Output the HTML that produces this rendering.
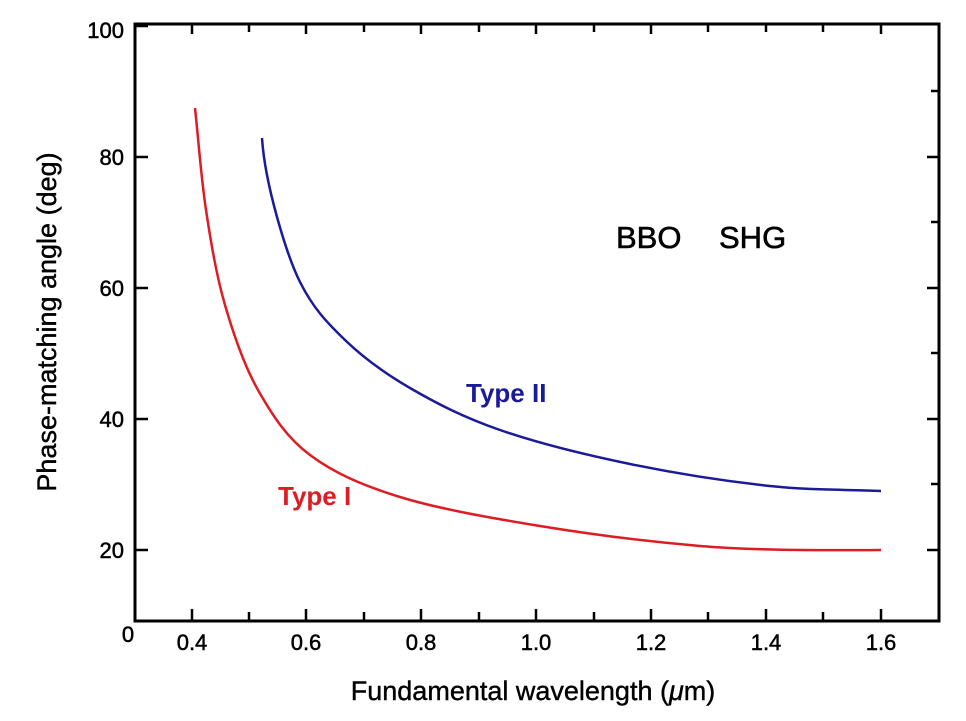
<!DOCTYPE html>
<html><head><meta charset="utf-8"><style>
body{margin:0;background:#fff;}
svg{display:block;font-family:"Liberation Sans",sans-serif;}
</style></head><body>
<svg width="966" height="721" viewBox="0 0 966 721">
<rect x="135" y="24" width="804" height="597" fill="none" stroke="#000" stroke-width="3"/>
<g stroke="#000" stroke-width="2.5">
<line x1="135" y1="26" x2="148" y2="26"/><line x1="135" y1="157" x2="148" y2="157"/><line x1="135" y1="288" x2="148" y2="288"/><line x1="135" y1="419" x2="148" y2="419"/><line x1="135" y1="550" x2="148" y2="550"/>
<line x1="939" y1="91" x2="931" y2="91"/><line x1="939" y1="157" x2="927" y2="157"/><line x1="939" y1="222" x2="931" y2="222"/><line x1="939" y1="288" x2="927" y2="288"/><line x1="939" y1="353" x2="931" y2="353"/><line x1="939" y1="419" x2="927" y2="419"/><line x1="939" y1="484" x2="931" y2="484"/><line x1="939" y1="550" x2="927" y2="550"/>
<line x1="192" y1="621" x2="192" y2="609"/><line x1="249" y1="621" x2="249" y2="612"/><line x1="306" y1="621" x2="306" y2="609"/><line x1="364" y1="621" x2="364" y2="612"/><line x1="421" y1="621" x2="421" y2="609"/><line x1="479" y1="621" x2="479" y2="612"/><line x1="536" y1="621" x2="536" y2="609"/><line x1="594" y1="621" x2="594" y2="612"/><line x1="651" y1="621" x2="651" y2="609"/><line x1="708" y1="621" x2="708" y2="612"/><line x1="766" y1="621" x2="766" y2="609"/><line x1="823" y1="621" x2="823" y2="612"/><line x1="881" y1="621" x2="881" y2="609"/>
<line x1="192" y1="24" x2="192" y2="34"/><line x1="249" y1="24" x2="249" y2="32"/><line x1="306" y1="24" x2="306" y2="34"/><line x1="364" y1="24" x2="364" y2="32"/><line x1="421" y1="24" x2="421" y2="34"/><line x1="479" y1="24" x2="479" y2="32"/><line x1="536" y1="24" x2="536" y2="34"/><line x1="594" y1="24" x2="594" y2="32"/><line x1="651" y1="24" x2="651" y2="34"/><line x1="708" y1="24" x2="708" y2="32"/><line x1="766" y1="24" x2="766" y2="32"/><line x1="823" y1="24" x2="823" y2="32"/><line x1="881" y1="24" x2="881" y2="34"/>
</g>
<g style="font-size:22px" fill="#000" stroke="#000" stroke-width="0.5" text-anchor="end">
<text x="124" y="38">100</text><text x="124" y="165">80</text><text x="124" y="296">60</text><text x="124" y="427">40</text><text x="124" y="558">20</text>
</g>
<g style="font-size:22px" fill="#000" stroke="#000" stroke-width="0.5" text-anchor="middle">
<text x="128" y="642">0</text><text x="192" y="650">0.4</text><text x="306" y="650">0.6</text><text x="421" y="650">0.8</text><text x="536" y="650">1.0</text><text x="651" y="650">1.2</text><text x="766" y="650">1.4</text><text x="881" y="650">1.6</text>
</g>
<text x="533" y="700" style="font-size:27px" stroke="#000" stroke-width="0.4" text-anchor="middle">Fundamental wavelength (<tspan font-style="italic">μ</tspan>m)</text>
<text transform="translate(56,322) rotate(-90)" style="font-size:27px" stroke="#000" stroke-width="0.4" text-anchor="middle">Phase-matching angle (deg)</text>
<text x="616" y="248" style="font-size:31px" stroke="#000" stroke-width="0.6">BBO</text><text x="719" y="248" style="font-size:31px" stroke="#000" stroke-width="0.6">SHG</text>
<text x="466" y="402" style="font-size:26px" font-weight="bold" fill="#1a1a9a">Type II</text>
<text x="278" y="505" style="font-size:26px" font-weight="bold" fill="#dd1c24">Type I</text>
<path d="M195,108 C198.7,142 201,177.2 206,210 S216.3,275 225,305 S243.8,365 258,390 S286.3,437.2 310,455 S361.7,485.2 400,497 S490,517.8 540,526 S650,541.8 700,546 S810,550.5 881,550" fill="none" stroke="#dd1c24" stroke-width="2.5"/>
<path d="M262,138 C265,185 287,256 300,282 S326.7,322.3 345,340 S384.2,373 410,388 S463.3,417.3 500,430 S585,454.7 630,464 S728.2,481.5 770,486 S844,489.3 881,491" fill="none" stroke="#1a1a9a" stroke-width="2.5"/>
</svg>
</body></html>
